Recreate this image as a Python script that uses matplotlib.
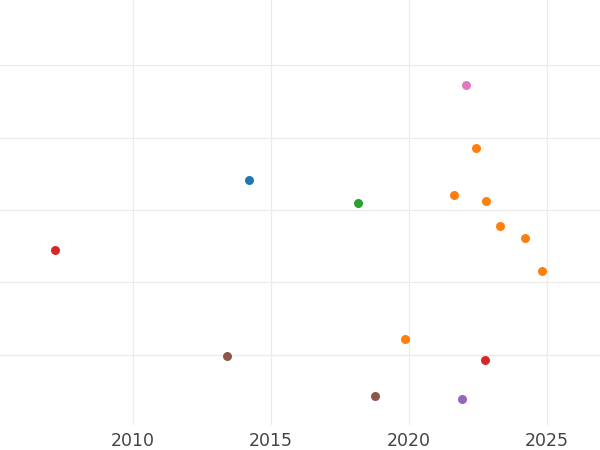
import matplotlib
matplotlib.use('Agg')
import matplotlib.pyplot as plt

#points, grouped by colour
years_blue=[2014.22]
vals_blue=[3.41]

years_green=[2018.16]
vals_green=[3.10]

years_pink=[2022.07]
vals_pink=[4.72]

years_orange=[2022.43,2021.64,2022.79,2023.30,2024.21,2024.82,2019.86]
vals_orange=[3.86,3.21,3.12,2.78,2.61,2.16,1.22]

years_red=[2007.20,2022.76]
vals_red=[2.45,0.93]

years_brown=[2013.42,2018.78]
vals_brown=[0.99,0.43]

years_purple=[2021.93]
vals_purple=[0.39]

xticks=[2010,2015,2020,2025]
yticks=[1,2,3,4,5]

groups=[(years_blue,vals_blue,'#1f77b4'),
        (years_green,vals_green,'#2ca02c'),
        (years_pink,vals_pink,'#e377c2'),
        (years_orange,vals_orange,'#ff7f0e'),
        (years_red,vals_red,'#d62728'),
        (years_brown,vals_brown,'#8c564b'),
        (years_purple,vals_purple,'#9467bd')]

fig=plt.figure(figsize=(6,4.5),dpi=100)
ax=fig.add_axes([0,0.0556,1,0.9444])

for x,y,c in groups:
    ax.scatter(x,y,s=42,color=c,linewidths=0,zorder=3)

ax.set_xlim(2005.2,2026.92)
ax.set_ylim(0.034,5.897)
ax.set_xticks(xticks)
ax.set_yticks(yticks)
ax.set_yticklabels([])
ax.grid(True,color='#ebebeb',linewidth=0.9)
ax.set_axisbelow(True)
ax.tick_params(length=0,labelsize=12.5,labelcolor='#444444',pad=5)
for s in ax.spines.values():
    s.set_visible(False)

fig.savefig('out.png',dpi=100)
